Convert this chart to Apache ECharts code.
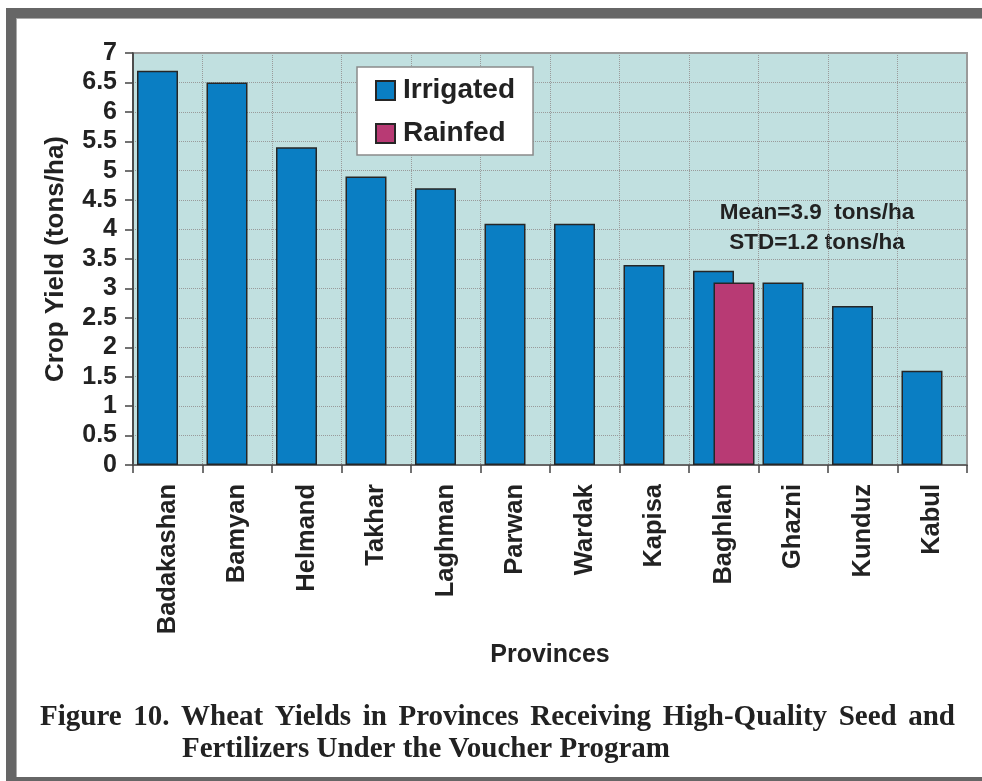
<!DOCTYPE html>
<html>
<head>
<meta charset="UTF-8">
<title>Wheat Yields</title>
<script src="https://cdn.jsdelivr.net/npm/echarts@6/dist/echarts.min.js"></script>
<style>
  html, body { margin: 0; padding: 0; background: #fff; }
  #main { width: 982px; height: 781px; }
</style>
</head>
<body>
<div id="main"></div>
<script>
// provinces, in the order shown
var provinces = ['Badakashan', 'Bamyan', 'Helmand', 'Takhar', 'Laghman', 'Parwan',
                 'Wardak', 'Kapisa', 'Baghlan', 'Ghazni', 'Kunduz', 'Kabul'];
// yields in tons/ha
var irrigated = [6.7, 6.5, 5.4, 4.9, 4.7, 4.1, 4.1, 3.4, 3.3, 3.1, 2.7, 1.6];
var rainfed = [null, null, null, null, null, null, null, null, 3.1, null, null, null];

var sans = '"Liberation Sans", Arial, sans-serif';
var serif = '"Liberation Serif", "Times New Roman", serif';

var caption1 = 'Figure 10. Wheat Yields in Provinces Receiving High-Quality Seed and';
var caption2 = 'Fertilizers Under the Voucher Program';
var capFont = 'bold 29px ' + serif;

// first caption line is justified between x=40 and x=955
function justifiedWords(text, x0, x1, y) {
  var ctx = document.createElement('canvas').getContext('2d');
  ctx.font = capFont;
  var words = text.split(' ');
  var widths = words.map(function (w) { return ctx.measureText(w).width; });
  var total = widths.reduce(function (a, b) { return a + b; }, 0);
  var gap = (x1 - x0 - total) / (words.length - 1);
  var x = x0;
  return words.map(function (w, i) {
    var el = { type: 'text', x: x, y: y, style: { text: w, font: capFont, fill: '#222', align: 'left', verticalAlign: 'middle' } };
    x += widths[i] + gap;
    return el;
  });
}

var chart = echarts.init(document.getElementById('main'));

var barStyle = function (color) {
  return { color: color, borderColor: '#262626', borderWidth: 1.5 };
};

chart.setOption({
  backgroundColor: '#fff',
  animation: false,
  grid: {
    left: 133, right: 15, top: 53, bottom: 316,
    show: true,
    backgroundColor: '#c1e0e0',
    borderColor: '#9a9a9a',
    borderWidth: 2
  },
  legend: {
    left: 357, top: 67,
    orient: 'vertical',
    icon: 'rect',
    itemWidth: 19, itemHeight: 19,
    itemGap: 12,
    padding: [8, 18, 6, 18],
    backgroundColor: '#fff',
    borderColor: '#8a8a8a',
    borderWidth: 1.5,
    textStyle: { fontFamily: sans, fontWeight: 'bold', fontSize: 28, color: '#222', lineHeight: 31, padding: [0, 0, 0, 3] },
    data: ['Irrigated', 'Rainfed']
  },
  xAxis: {
    type: 'category',
    data: provinces,
    name: 'Provinces',
    nameLocation: 'middle',
    nameGap: 174,
    nameTextStyle: { fontFamily: sans, fontWeight: 'bold', fontSize: 25, color: '#222' },
    axisLine: { lineStyle: { color: '#555', width: 1.5 } },
    axisTick: { show: true, length: 8, lineStyle: { color: '#444', width: 1.5 } },
    axisLabel: { rotate: 90, margin: 19, interval: 0, fontFamily: sans, fontWeight: 'bold', fontSize: 25.5, color: '#222' },
    splitLine: { show: true, interval: 0, lineStyle: { color: '#9a9a9a', type: 'dotted', width: 1 } }
  },
  yAxis: {
    type: 'value',
    min: 0, max: 7, interval: 0.5,
    name: 'Crop Yield (tons/ha)',
    nameLocation: 'middle',
    nameRotate: 90,
    nameGap: 64,
    nameTextStyle: { fontFamily: sans, fontWeight: 'bold', fontSize: 26, color: '#222' },
    axisLine: { show: true, lineStyle: { color: '#333', width: 1.5 } },
    axisTick: { show: true, length: 8, lineStyle: { color: '#444', width: 1.5 } },
    axisLabel: { margin: 16, fontFamily: sans, fontWeight: 'bold', fontSize: 25, color: '#222' },
    splitLine: { show: true, lineStyle: { color: '#9a9a9a', type: 'dotted', width: 1 } }
  },
  series: [
    { name: 'Irrigated', type: 'bar', data: irrigated, barWidth: 41, barGap: '-50%', itemStyle: barStyle('#0a7ec3') },
    { name: 'Rainfed', type: 'bar', data: rainfed, barWidth: 41, itemStyle: barStyle('#b83a74') }
  ],
  graphic: [
    // frame
    { type: 'rect', shape: { x: 6, y: 8, width: 976, height: 10 }, style: { fill: '#666' } },
    { type: 'rect', shape: { x: 6, y: 8, width: 10, height: 780 }, style: { fill: '#666' } },
    { type: 'rect', shape: { x: 6, y: 777, width: 976, height: 10 }, style: { fill: '#666' } },
    { type: 'rect', shape: { x: 16, y: 18, width: 966, height: 1 }, style: { fill: '#aaa' } },
    { type: 'rect', shape: { x: 16, y: 18, width: 1, height: 759 }, style: { fill: '#aaa' } },
    // stats note
    { type: 'text', x: 817, y: 213, style: { text: 'Mean=3.9  tons/ha', fontFamily: sans, fontWeight: 'bold', fontSize: 22.5, fill: '#222', align: 'center', verticalAlign: 'middle' } },
    { type: 'text', x: 817, y: 243, style: { text: 'STD=1.2 tons/ha', fontFamily: sans, fontWeight: 'bold', fontSize: 22.5, fill: '#222', align: 'center', verticalAlign: 'middle' } },
    // caption
    { type: 'text', x: 182, y: 750, style: { text: caption2, font: capFont, fill: '#222', align: 'left', verticalAlign: 'middle' } }
  ].concat(justifiedWords(caption1, 40, 955, 718))
});
</script>
</body>
</html>
